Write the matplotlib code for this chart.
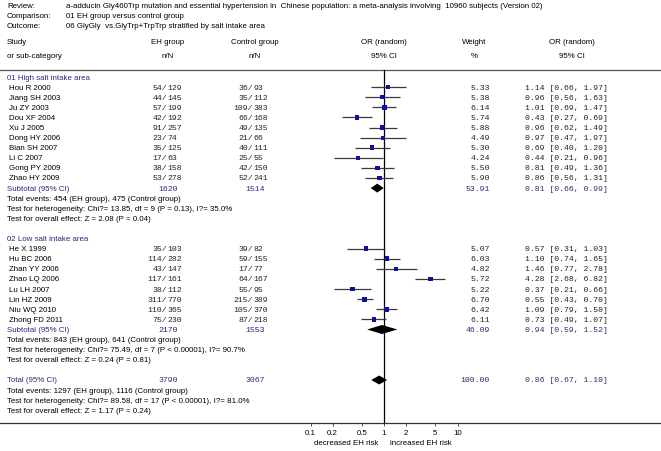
import matplotlib
matplotlib.use('Agg')
import matplotlib.pyplot as plt
from matplotlib.patches import Polygon
import numpy as np

# ---- data ----
review = 'a-adducin Gly460Trp mutation and essential hypertension in  Chinese population: a meta-analysis involving  10960 subjects (Version 02)'
comparison = '01 EH group versus control group'
outcome = '06 GlyGly  vs.GlyTrp+TrpTrp stratified by salt intake area'

group_titles = ['01 High salt intake area', '02 Low salt intake area']

high_names = ['Hou R 2000', 'Jiang SH 2003', 'Ju ZY 2003', 'Dou XF 2004', 'Xu J 2005',
              'Dong HY 2006', 'Bian SH 2007', 'Li C 2007', 'Gong PY 2009', 'Zhao HY 2009']
high_eh_n = [54, 44, 57, 42, 91, 23, 35, 17, 38, 53]
high_eh_N = [129, 145, 199, 192, 257, 74, 125, 63, 158, 278]
high_ct_n = [36, 35, 109, 66, 49, 21, 40, 25, 42, 52]
high_ct_N = [93, 112, 383, 168, 135, 66, 111, 55, 150, 241]
high_w = [5.33, 5.38, 6.14, 5.74, 5.88, 4.49, 5.30, 4.24, 5.50, 5.90]
high_or = [1.14, 0.96, 1.01, 0.43, 0.96, 0.97, 0.69, 0.44, 0.81, 0.86]
high_lo = [0.66, 0.56, 0.69, 0.27, 0.62, 0.47, 0.40, 0.21, 0.49, 0.56]
high_hi = [1.97, 1.63, 1.47, 0.69, 1.49, 1.97, 1.20, 0.96, 1.36, 1.31]

low_names = ['He X 1999', 'Hu BC 2006', 'Zhan YY 2006', 'Zhao LQ 2006', 'Lu LH 2007',
             'Lin HZ 2009', 'Niu WQ 2010', 'Zhong FD 2011']
low_eh_n = [35, 114, 43, 117, 38, 311, 110, 75]
low_eh_N = [103, 282, 147, 161, 112, 770, 365, 230]
low_ct_n = [39, 59, 17, 64, 55, 215, 105, 87]
low_ct_N = [82, 155, 77, 167, 95, 389, 370, 218]
low_w = [5.07, 6.03, 4.82, 5.72, 5.22, 6.70, 6.42, 6.11]
low_or = [0.57, 1.10, 1.46, 4.28, 0.37, 0.55, 1.09, 0.73]
low_lo = [0.31, 0.74, 0.77, 2.68, 0.21, 0.43, 0.79, 0.49]
low_hi = [1.03, 1.65, 2.78, 6.82, 0.66, 0.70, 1.50, 1.07]

# pooled: high, low, overall
pool_w = [53.91, 46.09, 100.00]
pool_or = [0.81, 0.94, 0.86]
pool_lo = [0.66, 0.59, 0.67]
pool_hi = [0.99, 1.52, 1.10]
pool_chi = ['13.85', '75.49', '89.58']
pool_df = [9, 7, 17]
pool_p = ['P = 0.13', 'P < 0.00001', 'P < 0.00001']
pool_i2 = ['35.0%', '90.7%', '81.0%']
pool_z = ['2.08', '0.24', '1.17']
pool_pz = ['0.04', '0.81', '0.24']

ticks = [0.1, 0.2, 0.5, 1, 2, 5, 10]

# ---- layout ----
W, H = 661, 452
navy = '#2a2a78'
sans = 'Liberation Sans'
mono = 'Liberation Mono'
fs = 5.7
fm = 5.9

fig = plt.figure(figsize=(W / 100, H / 100), dpi=100)
ax = fig.add_axes([0, 0, 1, 1])
ax.set_xlim(0, W)
ax.set_ylim(H, 0)
ax.axis('off')

axis_y = 424
fx_left, fx_right = 300, 470
one_px, decade = 384, 73.5
fx = fig.add_axes([fx_left / W, (H - axis_y) / H, (fx_right - fx_left) / W, axis_y / H])
fx.set_xscale('log')
fx.set_xlim(10 ** ((fx_left - one_px) / decade), 10 ** ((fx_right - one_px) / decade))
fx.set_ylim(axis_y, 0)
fx.patch.set_visible(False)
for s in fx.spines.values():
    s.set_visible(False)
fx.set_yticks([])
fx.set_xticks(ticks)
fx.set_xticks([], minor=True)
fx.set_xticklabels(['%g' % t for t in ticks], fontsize=fs, family=sans)
fx.tick_params(axis='x', length=2.5, width=0.6, pad=1.5, color='#333333')


def t(x, y, s, ha='left', color='black', font=sans, size=None):
    ax.text(x, y, s, ha=ha, va='center', color=color, family=font,
            fontsize=size or (fs if font == sans else fm))


# title block
t(7, 7, 'Review:'); t(66, 7, review)
t(7, 17, 'Comparison:'); t(66, 17, comparison)
t(7, 27, 'Outcome:'); t(66, 27, outcome)

# column headers
eh_x, ct_x = 168, 255
w_x, orx = 474, 572
t(7, 43, 'Study'); t(7, 57, 'or sub-category')
for x, a, b in [(eh_x, 'EH group', 'n/N'), (ct_x, 'Control group', 'n/N'),
                (one_px, 'OR (random)', '95% CI'), (w_x, 'Weight', '%'),
                (orx, 'OR (random)', '95% CI')]:
    t(x, 43, a, ha='center'); t(x, 57, b, ha='center')
ax.plot([0, W], [70.5, 70.5], color='#555555', lw=0.9)
ax.plot([0, W], [axis_y, axis_y], color='#333333', lw=0.9)

fx.plot([1, 1], [70.5, axis_y], color='black', lw=0.9)

eh_slash = 167
ct_slash = 253
w_right = 490
or_left = 525


def nN(slash, y, n, N, color='#222222'):
    t(slash, y, '%d/' % n, ha='right', font=mono, color=color)
    t(slash, y, '%d' % N, ha='left', font=mono, color=color)


def ci_text(y, w, o, lo, hi, color='#222222'):
    t(w_right, y, '%.2f' % w, ha='right', font=mono, color=color)
    t(or_left, y, '%.2f [%.2f, %.2f]' % (o, lo, hi), font=mono, color=color)


def diamond(y, o, lo, hi):
    fx.add_patch(Polygon([(lo, y), (o, y - 4.5), (hi, y), (o, y + 4.5)],
                         closed=True, color='black', lw=0))


dy = 10.1


def pooled_row(y, label, k, eN_tot, cN_tot):
    t(7, y, label, color=navy)
    t(eh_x, y, '%d' % eN_tot, ha='center', font=mono, color=navy)
    t(ct_x, y, '%d' % cN_tot, ha='center', font=mono, color=navy)
    ci_text(y, pool_w[k], pool_or[k], pool_lo[k], pool_hi[k], color=navy)
    diamond(y, pool_or[k], pool_lo[k], pool_hi[k])


def footer(y, k, ev1, ev2):
    t(7, y, 'Total events: %d (EH group), %d (Control group)' % (ev1, ev2))
    t(7, y + dy, 'Test for heterogeneity: Chi?= %s, df = %d (%s), I?= %s'
      % (pool_chi[k], pool_df[k], pool_p[k], pool_i2[k]))
    t(7, y + 2 * dy, 'Test for overall effect: Z = %s (P = %s)' % (pool_z[k], pool_pz[k]))


groups = [
    (high_names, high_eh_n, high_eh_N, high_ct_n, high_ct_N, high_w, high_or, high_lo, high_hi),
    (low_names, low_eh_n, low_eh_N, low_ct_n, low_ct_N, low_w, low_or, low_lo, low_hi),
]

y0 = 78
for k, (names, en, eN, cn, cN, wt, o, lo, hi) in enumerate(groups):
    t(7, y0, group_titles[k], color=navy)
    ys = y0 + dy * (np.arange(len(names)) + 1)
    for i, y in enumerate(ys):
        t(9, y, names[i])
        nN(eh_slash, y, en[i], eN[i])
        nN(ct_slash, y, cn[i], cN[i])
        ci_text(y, wt[i], o[i], lo[i], hi[i])
    fx.hlines(ys, lo, hi, color='#3a3a3a', lw=0.9)
    fx.scatter(o, ys, marker='s', s=np.array(wt) * 2.0, color='#10109a', zorder=3, lw=0)
    ys_sub = ys[-1] + dy
    pooled_row(ys_sub, 'Subtotal (95% CI)', k, sum(eN), sum(cN))
    footer(ys_sub + dy, k, sum(en), sum(cn))
    y0 = ys_sub + 5 * dy

# overall total
pooled_row(y0, 'Total (95% CI)', 2, sum(high_eh_N + low_eh_N), sum(high_ct_N + low_ct_N))
footer(y0 + dy, 2, sum(high_eh_n + low_eh_n), sum(high_ct_n + low_ct_n))

t(346, 444, 'decreased EH risk', ha='center')
t(421, 444, 'increased EH risk', ha='center')

fig.savefig('out.png', dpi=100)
